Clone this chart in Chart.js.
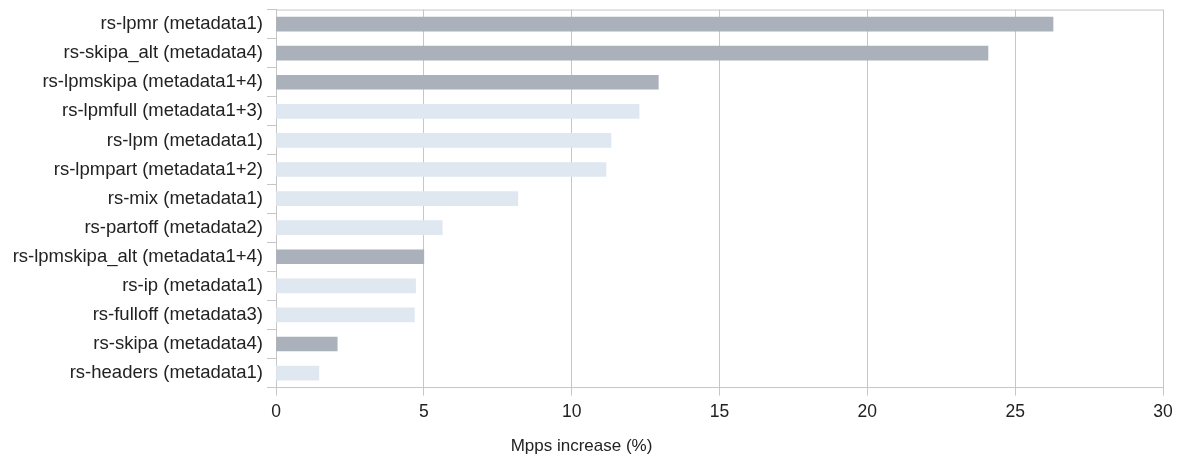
<!DOCTYPE html>
<html>
<head>
<meta charset="utf-8">
<script src="https://cdn.jsdelivr.net/npm/chart.js@4/dist/chart.umd.min.js"></script>
<style>
  html, body { margin: 0; padding: 0; background: #fff; }
  #wrap { width: 1183px; height: 459px; }
</style>
</head>
<body>
<div id="wrap"><canvas id="chart"></canvas></div>
<script>
// data
const categories = [
  'rs-lpmr (metadata1)',
  'rs-skipa_alt (metadata4)',
  'rs-lpmskipa (metadata1+4)',
  'rs-lpmfull (metadata1+3)',
  'rs-lpm (metadata1)',
  'rs-lpmpart (metadata1+2)',
  'rs-mix (metadata1)',
  'rs-partoff (metadata2)',
  'rs-lpmskipa_alt (metadata1+4)',
  'rs-ip (metadata1)',
  'rs-fulloff (metadata3)',
  'rs-skipa (metadata4)',
  'rs-headers (metadata1)'
];
const increase = [26.28, 24.08, 12.93, 12.28, 11.33, 11.16, 8.18, 5.62, 5.0, 4.72, 4.68, 2.07, 1.45];
// dark bars = highlighted variants
const highlighted = [true, true, true, false, false, false, false, false, true, false, false, true, false];
const xTicks = [0, 5, 10, 15, 20, 25, 30];

const DARK = '#aab1ba';
const LIGHT = '#dfe7f1';
const GRID = '#c6c6c6';

// top/right frame around plot area
const framePlugin = {
  id: 'frame',
  afterDraw(chart) {
    const { ctx, chartArea: a } = chart;
    ctx.save();
    ctx.strokeStyle = GRID;
    ctx.lineWidth = 1;
    ctx.beginPath();
    ctx.moveTo(a.left, a.top + 0.5);
    ctx.lineTo(a.right + 0.5, a.top + 0.5);
    ctx.lineTo(a.right + 0.5, a.bottom);
    ctx.stroke();
    ctx.restore();
  }
};

Chart.defaults.font.family = '"Liberation Sans", Arial, sans-serif';
Chart.defaults.color = '#222';

new Chart(document.getElementById('chart'), {
  type: 'bar',
  data: {
    labels: categories,
    datasets: [{
      data: increase,
      backgroundColor: highlighted.map(h => h ? DARK : LIGHT),
      barThickness: 14
    }]
  },
  options: {
    indexAxis: 'y',
    responsive: true,
    maintainAspectRatio: false,
    animation: false,
    layout: { padding: { top: 0, right: 20, bottom: 0, left: 0 } },
    plugins: {
      legend: { display: false },
      tooltip: { enabled: false },
      // centred on the whole canvas like the reference
      title: {
        display: true,
        position: 'bottom',
        text: 'Mpps increase (%)',
        font: { size: 17, weight: 'normal' },
        color: '#222',
        padding: { top: 8, bottom: 2 }
      }
    },
    scales: {
      y: {
        offset: true,
        afterFit: (s) => { s.width = 276; },
        grid: {
          offset: true,
          drawOnChartArea: false,
          color: GRID,
          tickLength: 9
        },
        border: { color: GRID },
        ticks: { font: { size: 18.5, lineHeight: 0.6 }, padding: 4, color: '#222' }
      },
      x: {
        min: 0,
        max: 30,
        afterBuildTicks: (s) => { s.ticks = xTicks.map(v => ({ value: v })); },
        grid: { color: GRID, tickLength: 8 },
        border: { color: GRID },
        ticks: { font: { size: 17.5 }, padding: 6, color: '#222' }
      }
    }
  },
  plugins: [framePlugin]
});
</script>
</body>
</html>
